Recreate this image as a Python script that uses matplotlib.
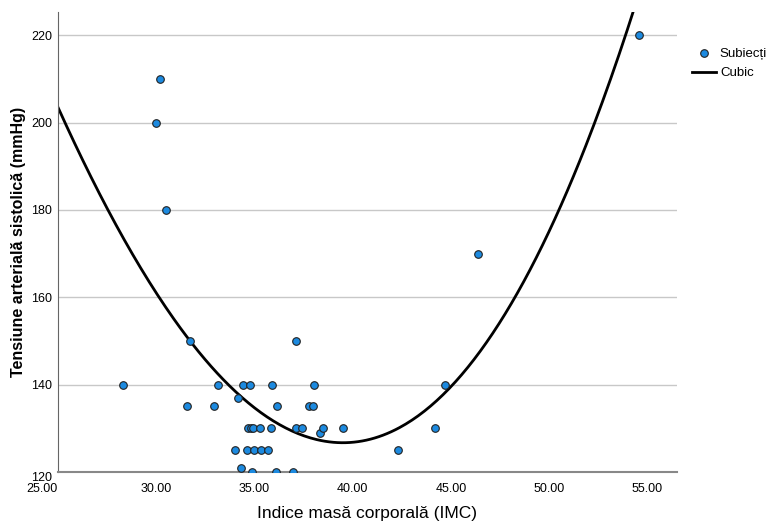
import numpy as np
import matplotlib.pyplot as plt

# IMC vs tensiune arteriala sistolica
imc = np.array([28.3, 30.18, 30.0, 30.5, 31.7, 31.55, 32.94, 33.15, 34.16, 34.4, 34.75,
                35.87, 36.13, 37.09, 37.77, 37.97, 38.04,
                34.67, 34.8, 34.94, 35.26, 35.82, 37.12, 37.41, 38.36, 38.5, 39.5,
                34.01, 34.6, 34.97, 35.35, 35.7, 34.31, 34.89, 36.08, 36.95,
                42.3, 44.17, 44.72, 46.36, 54.57])
tas = np.array([140, 210, 200, 180, 150, 135, 135, 140, 137, 140, 140,
                140, 135, 150, 135, 135, 140,
                130, 130, 130, 130, 130, 130, 130, 129, 130, 130,
                125, 125, 125, 125, 125, 121, 120, 120, 120,
                125, 130, 140, 170, 220])

# cubic model as drawn in the reference, in powers of (IMC - 40)
cubic_center = 40.0
cubic_coef = [0.002964, 0.41272, 0.4105, 126.8]

xticks = [25, 30, 35, 40, 45, 50, 55]
yticks = [120, 140, 160, 180, 200, 220]

plt.rcParams['font.family'] = ['Liberation Sans Narrow', 'Liberation Sans', 'DejaVu Sans']

fig = plt.figure(figsize=(7.66, 5.25), dpi=100)
ax = fig.add_axes([0.0757, 0.101, 0.808, 0.876])

xs = np.linspace(25, 56.5, 300)
ax.plot(xs, np.polyval(cubic_coef, xs - cubic_center), color='black', lw=2,
        label='Cubic', zorder=2)

ax.scatter(imc, tas, s=30, color='#1c8ae0', edgecolors='#222222', linewidths=0.8,
           label='Subiecți', zorder=3)

ax.set_xlim(25, 56.5)
ax.set_ylim(120, 225.3)
ax.set_xticks(xticks)
ax.set_xticklabels(['%.2f' % v for v in xticks])
ax.set_yticks(yticks)
ax.tick_params(length=0, labelsize=9)
ax.tick_params(axis='x', pad=8)
ax.tick_params(axis='y', pad=4)
ax.get_xticklabels()[0].set_horizontalalignment('right')
ax.get_yticklabels()[0].set_verticalalignment('top')

ax.grid(axis='y', color='#c8c8c8', lw=1)
ax.set_axisbelow(True)
for s in ['top', 'right']:
    ax.spines[s].set_visible(False)
ax.spines['left'].set_color('#666666')
ax.spines['bottom'].set_color('#888888')
ax.spines['bottom'].set_linewidth(1.5)

ax.set_xlabel('Indice masă corporală (IMC)', fontsize=12.5, labelpad=8)
ax.set_ylabel('Tensiune arterială sistolică (mmHg)', fontsize=11.5, fontweight='bold')

h, l = ax.get_legend_handles_labels()
fig.legend(h[::-1], l[::-1], loc='upper left', bbox_to_anchor=(0.895, 0.922),
           frameon=False, fontsize=9.5, handlelength=1.8, handletextpad=0.3,
           labelspacing=0.55, borderpad=0)

fig.savefig('out.png', dpi=100)
